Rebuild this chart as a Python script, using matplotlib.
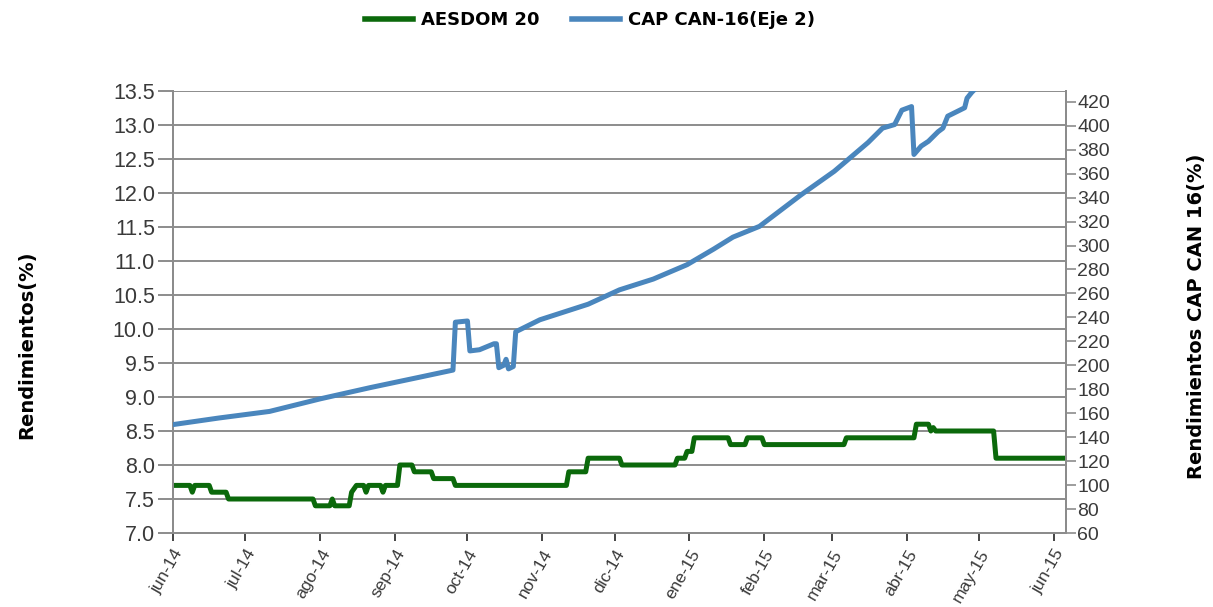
import matplotlib
matplotlib.use("Agg")
import matplotlib.pyplot as plt
import pandas as pd

# ---- data ----
aesdom_dates = ["2014-06-01", "2014-06-08", "2014-06-09", "2014-06-10", "2014-06-16", "2014-06-17",
                "2014-06-23", "2014-06-24", "2014-07-29", "2014-07-30", "2014-08-05", "2014-08-06",
                "2014-08-07", "2014-08-13", "2014-08-14", "2014-08-16", "2014-08-19", "2014-08-20",
                "2014-08-21", "2014-08-26", "2014-08-27", "2014-08-28", "2014-09-02", "2014-09-03",
                "2014-09-08", "2014-09-09", "2014-09-16", "2014-09-17", "2014-09-25", "2014-09-26",
                "2014-11-11", "2014-11-12", "2014-11-19", "2014-11-20", "2014-12-03", "2014-12-04",
                "2014-12-26", "2014-12-27", "2014-12-30", "2014-12-31", "2015-01-02", "2015-01-03",
                "2015-01-17", "2015-01-18", "2015-01-24", "2015-01-25", "2015-01-31", "2015-02-01",
                "2015-03-06", "2015-03-07", "2015-04-04", "2015-04-05", "2015-04-10", "2015-04-11",
                "2015-04-12", "2015-04-13", "2015-05-07", "2015-05-08", "2015-06-05"]
aesdom_values = [7.7, 7.7, 7.6, 7.7, 7.7, 7.6,
                 7.6, 7.5, 7.5, 7.4, 7.4, 7.5,
                 7.4, 7.4, 7.6, 7.7, 7.7, 7.6,
                 7.7, 7.7, 7.6, 7.7, 7.7, 8.0,
                 8.0, 7.9, 7.9, 7.8, 7.8, 7.7,
                 7.7, 7.9, 7.9, 8.1, 8.1, 8.0,
                 8.0, 8.1, 8.1, 8.2, 8.2, 8.4,
                 8.4, 8.3, 8.3, 8.4, 8.4, 8.3,
                 8.3, 8.4, 8.4, 8.6, 8.6, 8.5,
                 8.55, 8.5, 8.5, 8.1, 8.1]

cap_dates = ["2014-06-01", "2014-06-20", "2014-07-11", "2014-08-01", "2014-08-22", "2014-09-11",
             "2014-09-25", "2014-09-26", "2014-10-01", "2014-10-02", "2014-10-06", "2014-10-12",
             "2014-10-13", "2014-10-14", "2014-10-16", "2014-10-17", "2014-10-18", "2014-10-20",
             "2014-10-21", "2014-10-31", "2014-11-20", "2014-12-03", "2014-12-17", "2014-12-31",
             "2015-01-11", "2015-01-19", "2015-01-30", "2015-02-16", "2015-03-02", "2015-03-09",
             "2015-03-16", "2015-03-22", "2015-03-27", "2015-03-30", "2015-04-03", "2015-04-04",
             "2015-04-07", "2015-04-10", "2015-04-14", "2015-04-16", "2015-04-18", "2015-04-22",
             "2015-04-25", "2015-04-26", "2015-04-28", "2015-05-02"]
cap_values = [150.5, 156, 161.5, 172, 181.5, 190,
              196, 236, 237, 212, 213, 218,
              218, 198, 200, 205, 197, 199,
              228, 238, 251, 263, 272, 284,
              297, 307, 316, 342, 362, 374,
              386, 398, 401, 413, 416, 376,
              383, 387, 395, 398, 408, 412,
              415, 423, 428, 436]

month_ticks = ["2014-06-01", "2014-07-01", "2014-08-01", "2014-09-01", "2014-10-01", "2014-11-01",
               "2014-12-01", "2015-01-01", "2015-02-01", "2015-03-01", "2015-04-01", "2015-05-01",
               "2015-06-01"]
month_labels = ["jun-14", "jul-14", "ago-14", "sep-14", "oct-14", "nov-14", "dic-14",
                "ene-15", "feb-15", "mar-15", "abr-15", "may-15", "jun-15"]

left_ticks = [7.0, 7.5, 8.0, 8.5, 9.0, 9.5, 10.0, 10.5, 11.0, 11.5, 12.0, 12.5, 13.0, 13.5]
right_ticks = list(range(60, 421, 20))

# ---- plot ----
GREEN = "#0b690b"
BLUE = "#4a86bd"
GRID = "#8c8c8c"
TXT = "#3a3a3a"

fig = plt.figure(figsize=(12.13, 6.07), dpi=100)
ax = fig.add_axes([173 / 1213, 1 - 533 / 607, (1066 - 173) / 1213, (533 - 91) / 607])
ax2 = ax.twinx()

ax.plot(pd.to_datetime(aesdom_dates), aesdom_values, color=GREEN, lw=3.6,
        solid_joinstyle="round", label="AESDOM 20", zorder=3)
ax2.plot(pd.to_datetime(cap_dates), cap_values, color=BLUE, lw=3.6,
         solid_joinstyle="round", label="CAP CAN-16(Eje 2)", zorder=3)

ax.set_xlim(pd.Timestamp("2014-06-01"), pd.Timestamp("2015-06-06"))
ax.set_ylim(7.0, 13.5)
ax2.set_ylim(60, 429)

ax.set_yticks(left_ticks)
ax.set_yticklabels([f"{v:.1f}" for v in left_ticks], fontsize=15.5, color=TXT,
                   family="Liberation Sans")
ax2.set_yticks(right_ticks)
ax2.set_yticklabels([str(v) for v in right_ticks], fontsize=14, color=TXT,
                    family="Liberation Sans")

ax.set_xticks(pd.to_datetime(month_ticks))
ax.set_xticklabels(month_labels, rotation=60, ha="right", va="top",
                   rotation_mode="anchor", fontsize=12.5, color=TXT, family="Liberation Sans")

ax.grid(axis="y", color=GRID, lw=1.4)
ax.set_axisbelow(True)
ax.tick_params(axis="y", length=11, width=1.4, color=GRID, pad=2)
ax.tick_params(axis="x", length=6, width=1.4, color="#444444", pad=4)
ax2.tick_params(axis="y", length=7, width=1.2, color=GRID, pad=1)

for a in (ax, ax2):
    for s in ("left", "right", "bottom", "top"):
        a.spines[s].set_color(GRID)
        a.spines[s].set_linewidth(1.4)
    a.spines["top"].set_visible(False)

ax.set_ylabel("Rendimientos(%)", fontsize=14, fontweight="bold", color="black",
              family="DejaVu Sans")
ax.yaxis.set_label_coords(-0.153, 0.425)
ax2.set_ylabel("Rendimientos CAP CAN 16(%)", fontsize=14, fontweight="bold", color="black",
               family="DejaVu Sans")
ax2.yaxis.set_label_coords(1.1355, 0.49)

h1, l1 = ax.get_legend_handles_labels()
h2, l2 = ax2.get_legend_handles_labels()
leg = fig.legend(h1 + h2, l1 + l2, loc="center", bbox_to_anchor=(590 / 1213, 1 - 20 / 607),
                 ncol=2, frameon=False, handlelength=2.65, handletextpad=0.45,
                 columnspacing=1.8,
                 prop={"family": "DejaVu Sans", "weight": "bold", "size": 13})
for line in leg.get_lines():
    line.set_linewidth(4)

fig.savefig("out.png", dpi=100)
